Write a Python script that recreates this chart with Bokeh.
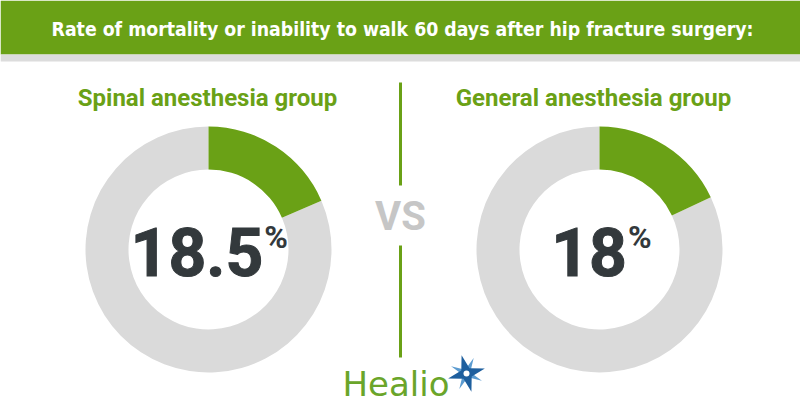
import math
from bokeh.plotting import figure
from bokeh.models import Range1d, ColumnDataSource
from bokeh.core.properties import value
from bokeh.embed import file_html
from bokeh.resources import INLINE

# ---- data ----
title = "Rate of mortality or inability to walk 60 days after hip fracture surgery:"
groups = ["Spinal anesthesia group", "General anesthesia group"]
rates = [18.5, 18.0]
rate_labels = ["18.5", "18"]
brand = "Healio"

# ---- style ----
GREEN = "#6aa116"
GRAY = "#dadada"
DARK = "#33393c"
W, H = 800, 420

def Y(ys):
    return H - ys

def BL(ys, size):
    # compensate Bokeh's alphabetic baseline offset (screen y of baseline)
    return Y(ys - 0.36 * size)

p = figure(width=W, height=H, x_range=Range1d(0, W), y_range=Range1d(0, H),
           output_backend="svg", toolbar_location=None,
           x_axis_location=None, y_axis_location=None,
           min_border=0, outline_line_color=None, background_fill_color="white",
           border_fill_color="white")
p.xgrid.visible = False
p.ygrid.visible = False

# header band
p.quad(left=0, right=W, bottom=Y(54), top=H, fill_color=GREEN, line_color=None)
p.quad(left=0, right=W, bottom=Y(61), top=Y(54), fill_color="#dcdcdc", line_color=None)
TS = 19.3
p.text(x=[402], y=[BL(36, TS)], text=[title], text_color="white", text_align="center",
       text_baseline="alphabetic", text_font=value("DejaVu Sans Condensed"),
       text_font_style="bold", text_font_size=f"{TS}px")

# donuts
centers_x = [208, 599]
cy = Y(249)
R_OUT, R_IN = 123, 80
thetas = [2 * math.pi * r / 100 for r in rates]
src = ColumnDataSource(dict(
    x=centers_x, y=[cy, cy],
    g_start=[math.pi / 2 - t for t in thetas], g_end=[math.pi / 2] * 2,
    r_start=[math.pi / 2] * 2, r_end=[math.pi / 2 - t for t in thetas],
))
p.annular_wedge(x="x", y="y", inner_radius=R_IN, outer_radius=R_OUT,
                start_angle="r_start", end_angle="r_end", fill_color=GRAY,
                line_color=None, source=src)
p.annular_wedge(x="x", y="y", inner_radius=R_IN, outer_radius=R_OUT,
                start_angle="g_start", end_angle="g_end", fill_color=GREEN,
                line_color=None, source=src)

# group titles
GS = 24
p.text(x=[207, 593], y=[BL(106, GS)] * 2, text=groups, text_color=GREEN,
       text_align="center", text_baseline="alphabetic", text_font=value("Roboto"),
       text_font_style="bold", text_font_size=f"{GS}px")

# percentage labels
NUM_SIZE = 66
PCT_SIZE = 32
def num_width(s):
    return sum((0.27 if c == "." else 0.56) * NUM_SIZE for c in s)
pct_w = 23
num_right = []
for cx, s in zip(centers_x, rate_labels):
    total = num_width(s) + pct_w
    num_right.append(cx + 2 + total / 2 - pct_w)
p.text(x=num_right, y=[BL(275, NUM_SIZE)] * 2, text=rate_labels, text_color=DARK,
       text_outline_color=DARK,
       text_align="right", text_baseline="alphabetic", text_font=value("Roboto"),
       text_font_style="bold", text_font_size=f"{NUM_SIZE}px")
p.text(x=[v + 1 for v in num_right], y=[BL(248, PCT_SIZE)] * 2, text=["%", "%"],
       text_color=DARK, text_align="left", text_baseline="alphabetic",
       text_font=value("Roboto"), text_font_style="bold", text_font_size=f"{PCT_SIZE}px")

# VS divider
p.segment(x0=[400, 400], y0=[Y(82), Y(245)], x1=[400, 400], y1=[Y(185), Y(357)],
          line_color=GREEN, line_width=3)
VS = 40
p.text(x=[400], y=[BL(230, VS)], text=["VS"], text_color="#c6c6c6", text_align="center",
       text_baseline="alphabetic", text_font=value("Roboto"), text_font_style="bold",
       text_font_size=f"{VS}px")

# brand
HS = 34
p.text(x=[342], y=[BL(396, HS)], text=[brand], text_color="#6aa52a", text_align="left",
       text_baseline="alphabetic", text_font=value("DejaVu Sans"), text_font_size=f"{HS}px")

def star(cx, cys, R, r, rot):
    xs, ys = [], []
    for k in range(8):
        a = math.radians(rot + k * 45)
        rr = R if k % 2 == 0 else r
        xs.append(cx + rr * math.cos(a))
        ys.append(Y(cys) + rr * math.sin(a))
    return xs, ys

sx, sy = star(466, 373, 17, 4, 65)
p.patch(sx, sy, fill_color="#5b9bd0", line_color=None)
sx, sy = star(466, 373, 19, 6, 15)
p.patch(sx, sy, fill_color="#1e5f9e", line_color=None)
p.circle(x=[466], y=[Y(373)], radius=3, fill_color="white", line_color=None)

open("out.html", "w").write(file_html(p, INLINE))
